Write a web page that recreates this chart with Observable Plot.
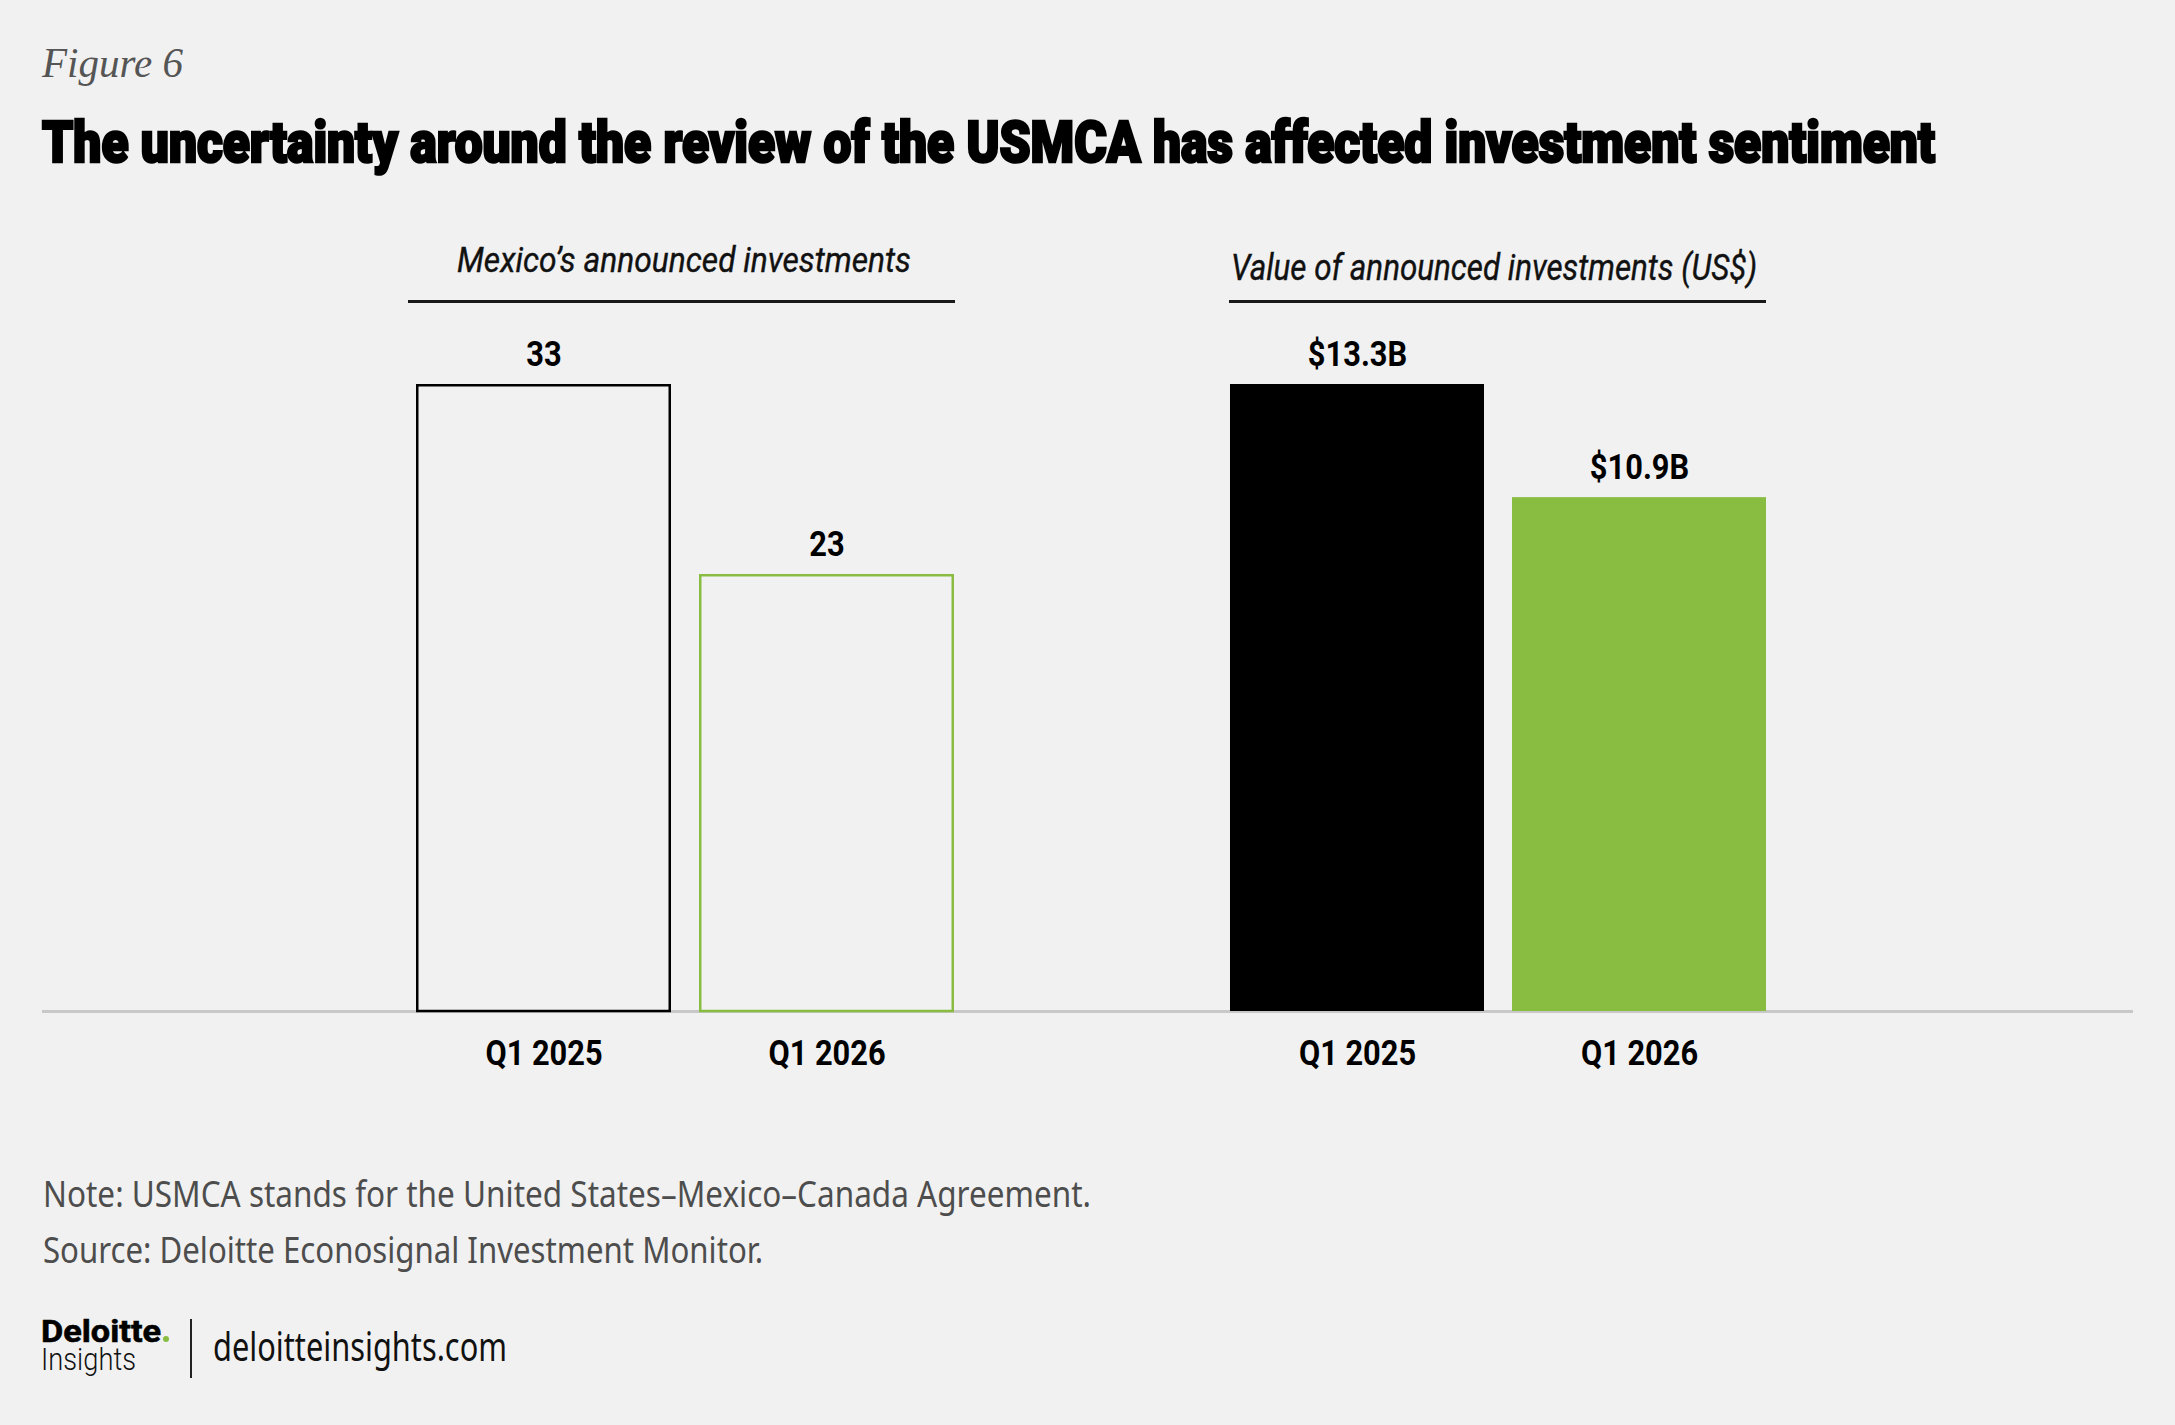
<!DOCTYPE html>
<html>
<head>
<meta charset="utf-8">
<script src="https://cdn.jsdelivr.net/npm/d3@7"></script>
<script src="https://cdn.jsdelivr.net/npm/@observablehq/plot@0.6"></script>
<style>
  html, body { margin: 0; padding: 0; background: #f1f1f1; }
  #root { position: relative; width: 2175px; height: 1425px; background: #f1f1f1; overflow: hidden; }
  .chart { position: absolute; }
  .line { position: absolute; background: #1a1a1a; }
</style>
</head>
<body>
<div id="root"></div>
<script>
// ---- Data ----
const periods = ["Q1 2025", "Q1 2026"];
const investmentCounts = [33, 23];
const investmentValues = [13.3, 10.9]; // US$ billions
const countLabels = ["33", "23"];
const valueLabels = ["$13.3B", "$10.9B"];
const leftPanelTitle = "Mexico’s announced investments";
const rightPanelTitle = "Value of announced investments (US$)";
const figureLabel = "Figure 6";
const titleText = "The uncertainty around the review of the USMCA has affected investment sentiment";
const noteText = "Note: USMCA stands for the United States–Mexico–Canada Agreement.";
const sourceText = "Source: Deloitte Econosignal Investment Monitor.";

const periodColors = ["#000000", "#88bd42"];
const root = document.getElementById("root");

function place(txt, o) {
  const el = document.createElement("div");
  el.style.cssText = `position:absolute;left:0;top:0;white-space:nowrap;line-height:${o.lh || 1.2};` +
    `font-family:${o.family};font-size:${o.size}px;font-weight:${o.weight || 400};` +
    `font-style:${o.style || "normal"};color:${o.color || "#000"};transform-origin:0 0;` +
    (o.stroke ? `-webkit-text-stroke:${o.stroke}px ${o.color || "#000"};` : "");
  el.appendChild(document.createTextNode(txt));
  const probe = document.createElement("span");
  probe.style.cssText = "display:inline-block;width:0;height:0;vertical-align:baseline";
  el.appendChild(probe);
  root.appendChild(el);
  const base = probe.offsetTop;
  const w = el.getBoundingClientRect().width;
  const k = o.width ? o.width / w : 1;
  el.style.left = o.x + "px";
  el.style.top = (o.baseline - base) + "px";
  el.style.transform = `scaleX(${k})`;
  return el;
}
function hline(x1, x2, y, h, color) {
  const d = document.createElement("div");
  d.className = "line";
  d.style.left = x1 + "px"; d.style.top = y + "px";
  d.style.width = (x2 - x1) + "px"; d.style.height = h + "px";
  if (color) d.style.background = color;
  root.appendChild(d);
}
function vline(x, y1, y2, w, color) {
  const d = document.createElement("div");
  d.className = "line";
  d.style.left = x + "px"; d.style.top = y1 + "px";
  d.style.width = w + "px"; d.style.height = (y2 - y1) + "px";
  if (color) d.style.background = color;
  root.appendChild(d);
}

// ---- Header texts ----
place(figureLabel, {x: 42, baseline: 77, size: 43, family: "'Liberation Serif', serif", style: "italic", color: "#555", width: 141});
place(titleText, {x: 42, baseline: 162, size: 57, family: "Roboto, sans-serif", weight: 900, color: "#000", width: 1893, stroke: 2.6});
place(leftPanelTitle, {x: 457, baseline: 272, size: 35, family: "Roboto, sans-serif", style: "italic", color: "#111", width: 454, stroke: 0.4});
place(rightPanelTitle, {x: 1231, baseline: 280, size: 36, family: "Roboto, sans-serif", style: "italic", color: "#111", width: 526, stroke: 0.4});
hline(408, 955, 300, 3);
hline(1229, 1766, 300, 3);

// ---- Charts ----
const font = "Roboto, sans-serif";
function panel(values, labels, mode, left, width, xRange) {
  const data = periods.map((p, i) => ({period: p, value: values[i], label: labels[i]}));
  const barOpts = mode === "outline"
    ? {x: "period", y: "value", stroke: "period", fill: "none", strokeWidth: 2.5, insetLeft: 1.25, insetRight: 1.25, insetTop: 1.25, insetBottom: 0}
    : {x: "period", y: "value", fill: "period"};
  const svg = Plot.plot({
    width, height: 870,
    marginTop: 154, marginBottom: 89, marginLeft: 0, marginRight: 0,
    style: {background: "transparent", color: "#000", fontFamily: font, overflow: "visible"},
    x: {domain: periods, range: xRange, paddingInner: 0.1, paddingOuter: 0, label: null},
    y: {domain: [0, d3.max(values)], axis: null},
    color: {domain: periods, range: periodColors},
    marks: [
      Plot.ruleY([0], {stroke: "#c8c8c8", strokeWidth: 3}),
      Plot.barY(data, barOpts),
      Plot.text(data, {x: "period", y: "value", text: "label", dy: -19, lineAnchor: "bottom",
        fontSize: 35, fontWeight: 700, fontFamily: font, fill: "#000"}),
      Plot.axisX({tickSize: 0, tickPadding: 29, fontSize: 35, fontWeight: 700, fontFamily: font, label: null})
    ]
  });
  svg.classList.add("chart");
  svg.style.left = left + "px";
  svg.style.top = "230px";
  root.appendChild(svg);
  svg.querySelectorAll("text").forEach(t => {
    const w = t.getComputedTextLength();
    if (w > 0) {
      t.setAttribute("textLength", (w * 0.88).toFixed(1));
      t.setAttribute("lengthAdjust", "spacingAndGlyphs");
    }
  });
  return svg;
}
panel(investmentCounts, countLabels, "outline", 42, 1050, [374, 912]);
panel(investmentValues, valueLabels, "filled", 1092, 1041, [138, 674]);

// ---- Footer ----
place(noteText, {x: 43, baseline: 1207, size: 36, family: "'Noto Sans', sans-serif", color: "#4d4d4d", width: 1048});
place(sourceText, {x: 43, baseline: 1263, size: 36, family: "'Noto Sans', sans-serif", color: "#4d4d4d", width: 720});

place("Deloitte", {x: 41, baseline: 1342, size: 32, family: "Roboto, sans-serif", weight: 700, color: "#000", width: 120, lh: 0.78, stroke: 0.6});
const dot = document.createElement("div");
dot.style.cssText = "position:absolute;left:163px;top:1336px;width:6px;height:6px;border-radius:50%;background:#88bd42";
root.appendChild(dot);
place("Insights", {x: 41, baseline: 1370, size: 32, family: "Roboto, sans-serif", weight: 300, color: "#111", width: 95, lh: 0.78});
vline(190, 1319, 1378, 2, "#222");
place("deloitteinsights.com", {x: 213, baseline: 1361, size: 40, family: "'Noto Sans', sans-serif", weight: 400, color: "#111", width: 294});
</script>
</body>
</html>
